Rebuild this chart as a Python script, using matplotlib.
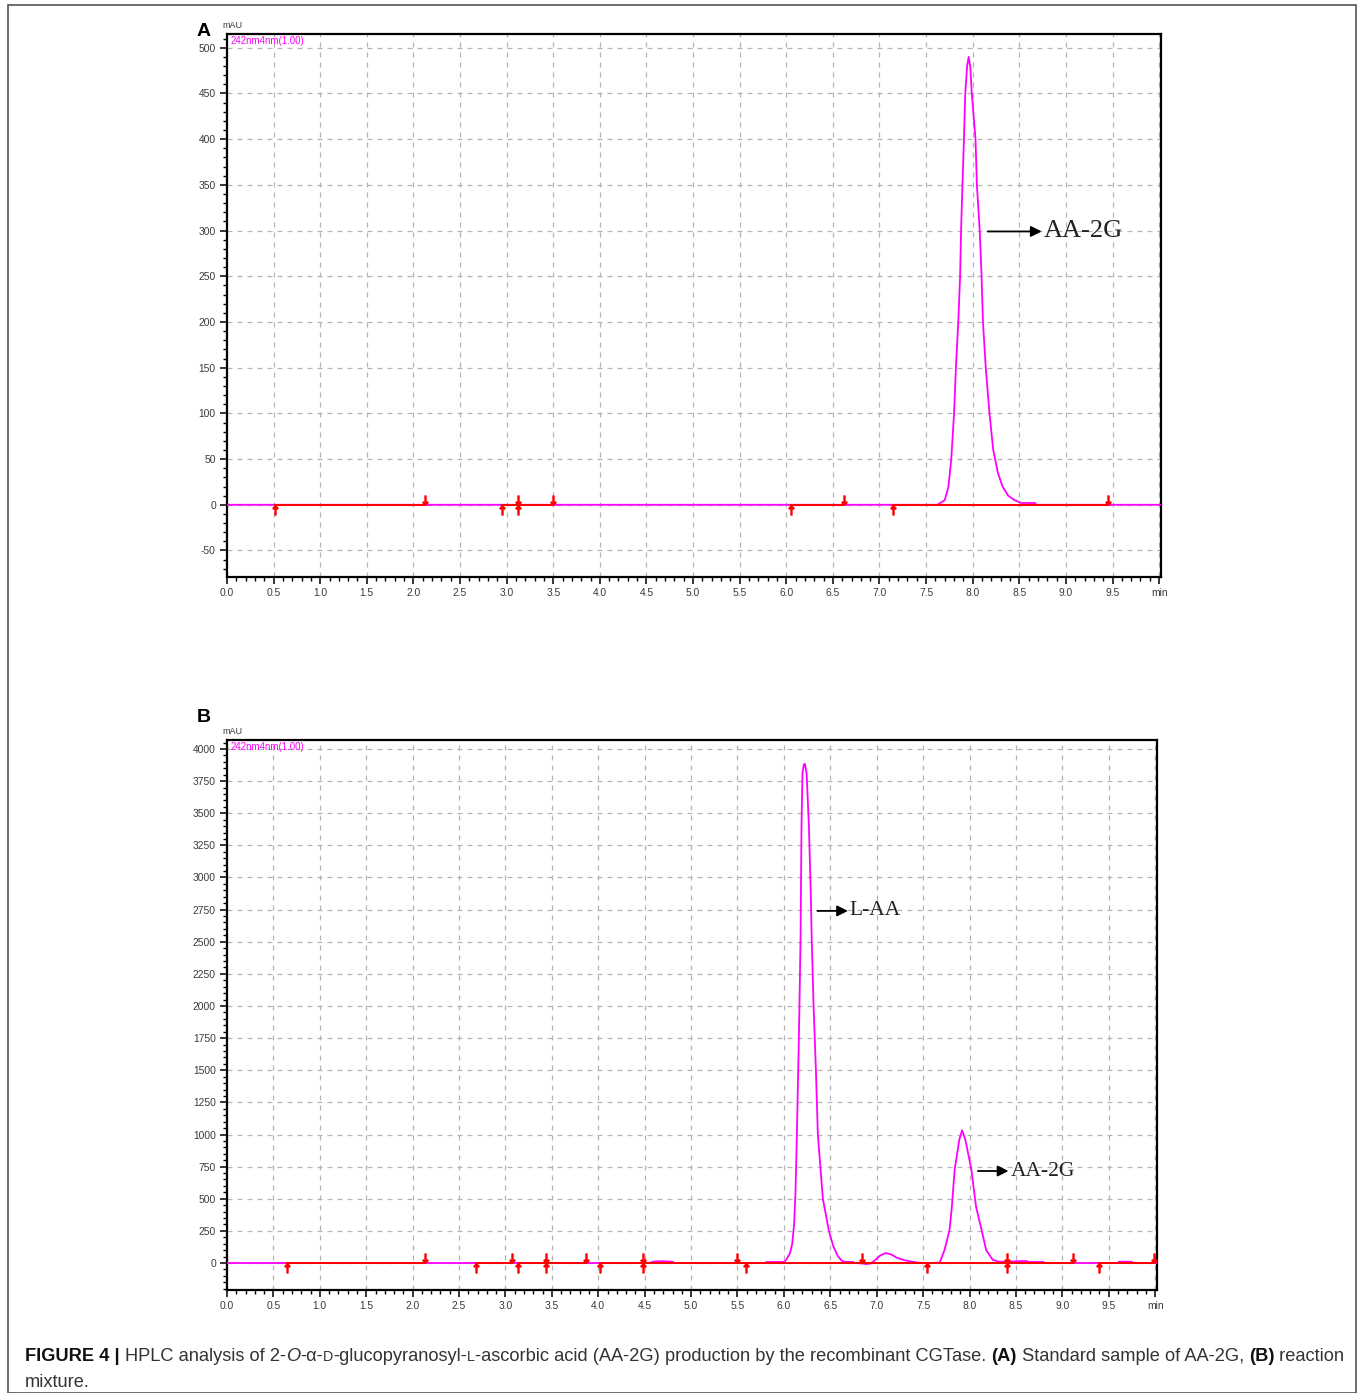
import matplotlib
matplotlib.use('Agg')

import matplotlib.pyplot as plt
import matplotlib.transforms as mtransforms
from matplotlib.ticker import MultipleLocator
from matplotlib.patches import Rectangle

# ---- panel A : standard AA-2G ----
a_time = [0.0, 7.62, 7.70, 7.74, 7.77, 7.80, 7.82, 7.845, 7.865, 7.875, 7.89, 7.906, 7.92,
          7.94, 7.957, 7.975, 7.99, 8.03, 8.045, 8.075, 8.093, 8.11, 8.14, 8.18, 8.22,
          8.27, 8.32, 8.38, 8.45, 8.52, 8.67, 8.68, 10.02]
a_mau = [0, 0, 5, 20, 50, 100, 150, 200, 250, 300, 350, 400, 450,
         480, 490, 478, 450, 400, 350, 300, 256, 200, 150, 100, 60,
         35, 20, 10, 5, 2, 2, 0, 0]
a_red = [(0.52, 2.12), (2.95, 3.50), (6.05, 6.62), (7.15, 9.45)]
a_up = [0.52, 2.95, 3.12, 6.05, 7.15]
a_down = [2.12, 3.12, 3.50, 6.62, 9.45]

# ---- panel B : reaction mixture ----
b_time = [0.0, 4.55, 4.60, 4.70, 4.80, 4.82, 5.80, 5.81, 6.00, 6.02, 6.065, 6.09, 6.11,
          6.125, 6.14, 6.16, 6.17, 6.18, 6.185, 6.19, 6.20, 6.215, 6.226, 6.245, 6.27,
          6.29, 6.30, 6.32, 6.345, 6.366, 6.42, 6.485, 6.53, 6.58, 6.62, 6.66, 6.75,
          6.76, 6.84, 6.88, 6.93, 6.98, 7.04, 7.10, 7.16, 7.22, 7.30, 7.38, 7.46, 7.50,
          7.60, 7.68, 7.73, 7.785, 7.81, 7.84, 7.89, 7.92, 7.955, 8.02, 8.07, 8.13, 8.18,
          8.25, 8.32, 8.40, 8.55, 8.62, 8.63, 8.80, 8.81, 9.60, 9.61, 9.75, 9.76, 10.02]
b_mau = [0, 0, 12, 14, 10, 0, 0, 8, 8, 20, 75, 150, 300,
         550, 1000, 1700, 2100, 2550, 3000, 3400, 3810, 3880, 3884, 3810, 3392,
         2864, 2514, 2000, 1500, 1000, 500, 250, 135, 55, 20, 8, 8,
         0, -3, -8, -5, 20, 60, 78, 65, 40, 22, 10, 2, 0,
         0, 5, 100, 257, 440, 727, 960, 1033, 960, 727, 440, 257, 100,
         25, 10, 10, 15, 15, 8, 8, 0, 0, 10, 10, 0, 0]
b_red = [(0.65, 2.13), (2.68, 3.07), (3.14, 3.87), (4.02, 9.11), (9.39, 9.99)]
b_up = [0.65, 2.68, 3.14, 3.44, 4.02, 4.48, 5.59, 7.54, 8.40, 9.39]
b_down = [2.13, 3.07, 3.44, 3.87, 4.48, 5.50, 6.84, 8.40, 9.11, 9.99]

x_ticks = [i * 0.5 for i in range(21)]
x_labels = ["%.1f" % t for t in x_ticks[:-1]] + ["min"]

MAGENTA = "#ff00ff"
RED = "#ff0000"
TICK_COLOR = "#3a3a3a"

fig = plt.figure(figsize=(13.6, 13.93), dpi=100)
W, H = 1360.0, 1393.0


def px_axes(left, top, right, bottom):
    return fig.add_axes([left / W, 1 - bottom / H, (right - left) / W, (bottom - top) / H])


def draw_panel(ax, time, mau, red_spans, up, down, ylim, yminor, yticks):
    ax.set_xlim(0, 10.02)
    ax.set_ylim(*ylim)

    ax.plot(time, mau, color=MAGENTA, lw=1.3, zorder=3)
    for s, e in red_spans:
        ax.plot([s, e], [0, 0], color=RED, lw=1.4, zorder=4)

    # integration event markers
    below = mtransforms.offset_copy(ax.transData, fig=fig, x=0, y=-5, units='dots')
    above = mtransforms.offset_copy(ax.transData, fig=fig, x=0, y=5, units='dots')
    ax.plot(up, [0] * len(up), ls='none', marker=r'$\uparrow$', ms=6.5,
            color=RED, transform=below, zorder=5)
    ax.plot(down, [0] * len(down), ls='none', marker=r'$\downarrow$', ms=6.5,
            color=RED, transform=above, zorder=5)

    ax.set_xticks(x_ticks)
    ax.set_xticklabels(x_labels)
    ax.xaxis.set_minor_locator(MultipleLocator(0.1))
    ax.set_yticks(yticks)
    ax.set_yticklabels([str(v) for v in yticks])
    ax.yaxis.set_minor_locator(MultipleLocator(yminor))

    ax.tick_params(which='major', direction='out', length=5, width=1.1,
                   labelsize=7.4, labelcolor=TICK_COLOR, pad=3)
    ax.tick_params(which='minor', direction='out', length=3, width=1.0)
    for lab in ax.get_xticklabels() + ax.get_yticklabels():
        lab.set_fontfamily('Liberation Sans')

    ax.grid(True, which='major', color='#b4b4b4', linestyle=(0, (4, 4)), lw=0.9)
    for sp in ax.spines.values():
        sp.set_linewidth(1.6)
        sp.set_color('black')

    ax.text(0.004, 0.997, "242nm4nm(1.00)", transform=ax.transAxes, color=MAGENTA,
            fontsize=7, va='top', ha='left', family='Liberation Sans')


def arrow_label(ax, x0, x1, y, label, size):
    ax.annotate('', xy=(x1, y), xytext=(x0, y),
                arrowprops=dict(arrowstyle='-|>', color='black', lw=1.3,
                                mutation_scale=16, shrinkA=0, shrinkB=0))
    ax.text(x1 + 0.02, y, label, fontsize=size, family='Liberation Serif',
            va='center', ha='left', color='#222222')


# panel A
axA = px_axes(227, 34, 1161, 577)
draw_panel(axA, a_time, a_mau, a_red, a_up, a_down, (-79, 515), 10,
           list(range(-50, 501, 50)))
arrow_label(axA, 8.16, 8.74, 299, "AA-2G", 19)

# panel B
axB = px_axes(227, 740, 1157, 1290)
draw_panel(axB, b_time, b_mau, b_red, b_up, b_down, (-210, 4070), 50,
           list(range(0, 4001, 250)))
arrow_label(axB, 6.36, 6.69, 2740, "L-AA", 15.5)
arrow_label(axB, 8.09, 8.42, 716, "AA-2G", 15.5)

# panel letters and unit labels
fig.text(197 / W, 1 - 31 / H, "A", fontsize=14, fontweight='bold', va='center',
         family='Liberation Sans')
fig.text(197 / W, 1 - 717 / H, "B", fontsize=14, fontweight='bold', va='center',
         family='Liberation Sans')
fig.text(222 / W, 1 - 26 / H, "mAU", fontsize=6.5, va='center', color=TICK_COLOR,
         family='Liberation Sans')
fig.text(222 / W, 1 - 731 / H, "mAU", fontsize=6.5, va='center', color=TICK_COLOR,
         family='Liberation Sans')

# outer frame
fig.patches.append(Rectangle((8 / W, 0), (1356 - 8) / W, 1 - 5 / H, transform=fig.transFigure,
                             fill=False, edgecolor='#555555', lw=1.2))

# caption, written piece by piece
renderer = fig.canvas.get_renderer()
CAP = 13.15
cap_line1 = [
    ("FIGURE 4 | ", 'bold'), ("HPLC analysis of 2-", 'normal'), ("O", 'italic'),
    ("-\u03b1-", 'normal'), ("D", 'small'), ("-glucopyranosyl-", 'normal'), ("L", 'small'),
    ("-ascorbic acid (AA-2G) production by the recombinant CGTase. ", 'normal'),
    ("(A)", 'bold'), (" Standard sample of AA-2G, ", 'normal'), ("(B)", 'bold'),
    (" reaction", 'normal'),
]


def caption_line(x, y, pieces):
    for txt, style in pieces:
        kw = dict(fontsize=CAP, family='Liberation Sans', color='#333333')
        if style == 'bold':
            kw['fontweight'] = 'bold'
            kw['color'] = '#111111'
        elif style == 'italic':
            kw['fontstyle'] = 'italic'
        elif style == 'small':
            kw['fontsize'] = CAP * 0.78
        t = fig.text(x, y, txt, transform=mtransforms.IdentityTransform(),
                     va='baseline', ha='left', **kw)
        x += t.get_window_extent(renderer).width


caption_line(25, H - 1361, cap_line1)
caption_line(25, H - 1387, [("mixture.", 'normal')])

plt.savefig("out.png", dpi=100)
plt.close()
